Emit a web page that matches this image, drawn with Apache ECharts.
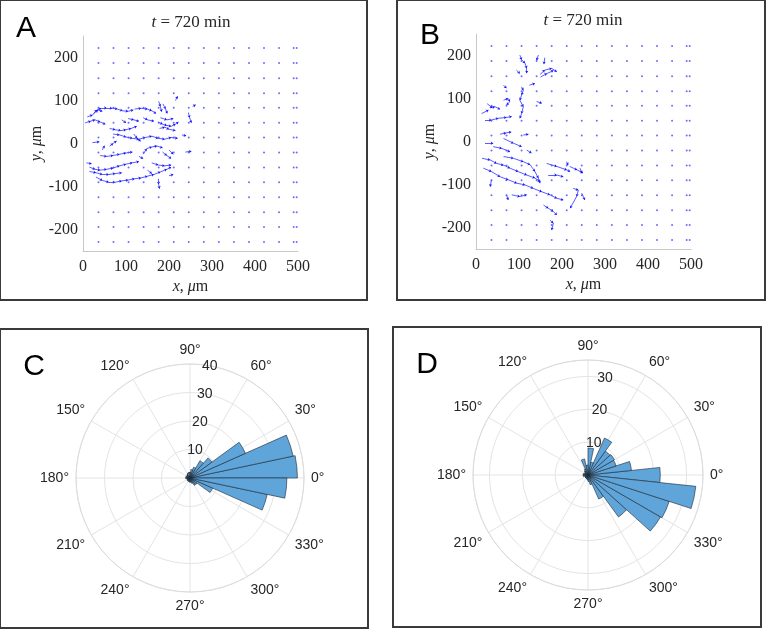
<!DOCTYPE html>
<html>
<head>
<meta charset="utf-8">
<title>Cell tracks and direction histograms</title>
<script src="https://cdn.jsdelivr.net/npm/echarts@6.0.0/dist/echarts.min.js"></script>
<style>
html, body {margin:0; padding:0; background:#fff;}
#chart {width:766px; height:630px;}
</style>
</head>
<body>
<div id="chart"></div>
<script>
// fixed grid points (um)
const gridX = [36, 71, 106, 141, 176, 211, 246, 281, 316, 351, 386, 421, 456, 490, 497];
const gridY = [-229, -194, -160, -125, -90, -56, -21, 14, 48, 83, 117, 152, 187, 222];
const xTicks = [0, 100, 200, 300, 400, 500];
const yTicks = [-200, -100, 0, 100, 200];

// cell tracks, points in um
const tracksA = [
  [[10,62],[22,66],[32,78],[42,82],[55,83],[68,82],[80,80],[92,76],[105,75],[117,78]],
  [[120,80],[135,82],[150,80],[160,76],[170,70]],
  [[5,48],[18,52],[28,55],[40,50],[52,45]],
  [[25,70],[35,78],[45,75]],
  [[62,35],[75,32],[88,30],[100,32],[112,35],[125,40]],
  [[105,58],[118,55],[130,52]],
  [[140,60],[150,55],[165,52]],
  [[176,98],[180,86],[183,74]],
  [[186,92],[192,80],[196,70]],
  [[215,100],[220,110]],
  [[175,50],[185,45],[195,42],[205,40],[215,45],[222,50]],
  [[178,35],[190,38],[200,33],[215,30]],
  [[180,60],[195,55],[210,58]],
  [[70,22],[85,20],[100,15],[115,12],[130,10],[145,14],[160,17],[175,12],[190,10],[205,14],[220,12]],
  [[118,22],[126,12],[134,5]],
  [[22,2],[38,4]],
  [[62,-6],[70,0],[78,6]],
  [[140,-25],[148,-12],[160,-8],[172,-6],[185,-10]],
  [[40,-28],[55,-30],[70,-28],[85,-25],[100,-22],[115,-20]],
  [[8,-45],[20,-47]],
  [[15,-55],[28,-60],[40,-62],[55,-60],[70,-57],[85,-52],[100,-48],[115,-45],[130,-42]],
  [[15,-65],[30,-68],[45,-72],[60,-72],[75,-70],[90,-68]],
  [[30,-78],[45,-86],[60,-90],[75,-90],[90,-87],[105,-85],[120,-82],[135,-80],[150,-76],[165,-72],[180,-66],[195,-60],[205,-55]],
  [[175,-82],[176,-95],[178,-105]],
  [[160,-45],[175,-50],[190,-52],[205,-50]],
  [[185,-20],[195,-28],[205,-35]],
  [[200,-15],[210,-25]],
  [[238,-20],[252,-18]],
  [[255,86],[262,90]],
  [[245,72],[248,60],[252,48]],
  [[230,20],[240,18]],
  [[90,55],[100,48]],
  [[150,-62],[160,-70]],
  [[200,-75],[210,-72]],
  [[130,-30],[140,-35]],
  [[45,-15],[50,-5]]
];
const tracksB = [
  [[102,201],[106,190],[114,182],[118,170],[118,159]],
  [[145,201],[141,189]],
  [[160,195],[158,180]],
  [[94,166],[102,158]],
  [[149,156],[160,166],[176,170],[188,162]],
  [[150,150],[165,158],[180,165]],
  [[124,131],[137,135]],
  [[106,127],[110,119],[106,108],[102,96],[110,81],[106,65],[102,54]],
  [[64,131],[71,124]],
  [[64,96],[75,100],[79,93],[71,85]],
  [[26,88],[38,78]],
  [[13,65],[29,73]],
  [[33,78],[44,81],[56,75]],
  [[21,50],[36,50],[52,54],[71,56],[83,58]],
  [[141,93],[153,89]],
  [[56,17],[70,20],[82,22]],
  [[110,15],[122,17]],
  [[21,-4],[40,-4]],
  [[64,7],[87,-4],[106,-12]],
  [[40,-12],[60,-16],[79,-24]],
  [[118,-20],[129,-27]],
  [[14,-39],[33,-43],[48,-51],[64,-55],[79,-62],[98,-70],[118,-78],[137,-85],[149,-93]],
  [[64,-35],[87,-39],[110,-47],[126,-54],[137,-70],[145,-85],[149,-97]],
  [[17,-62],[36,-70],[56,-82],[75,-89],[95,-97],[114,-101],[133,-109],[153,-117],[172,-124],[188,-132],[203,-136]],
  [[164,-51],[188,-58],[211,-66],[219,-70]],
  [[218,-58],[235,-66],[249,-73]],
  [[211,-47],[214,-55]],
  [[242,-62],[246,-74]],
  [[168,-78],[188,-78],[203,-82]],
  [[36,-89],[33,-105]],
  [[71,-124],[75,-136]],
  [[83,-124],[102,-128],[118,-124]],
  [[226,-109],[238,-113],[234,-128],[219,-155]],
  [[246,-120],[253,-136]],
  [[157,-148],[168,-155],[180,-163],[188,-171]],
  [[172,-183],[180,-190],[176,-206]]
];

// direction histograms (bin centre in degrees, count)
const binWidth = 12;
const binsC = [6,18,30,42,54,66,78,90,102,114,126,138,150,162,174,186,198,210,222,234,246,258,270,282,294,306,318,330,342,354];
const countsC = [37.7,37,21.3,9.5,7,4,3,2,1.5,1,1,1,1,1.5,1.5,1.5,1,1,1,1,1,1,1.5,1.5,2,3,3,8.7,27.7,34];
const binsD = [0,12,24,36,48,60,72,84,96,108,120,132,144,156,168,180,192,204,216,228,240,252,264,276,288,300,312,324,336,348];
const countsD = [22,13.3,9,9.3,9,12.3,4,8.2,3,5,2,1.5,1,1,1.5,1.5,1.5,1,1,1,1,1,1.5,2,3,8,15.8,25.5,26,33];
const rTicksC = [0, 10, 20, 30, 40];
const rTicksD = [0, 10, 20, 30];

const ink = '#262626';
const serif = 'Liberation Serif';
const sans = 'Liberation Sans';

function gridPoints() {
  const pts = [];
  gridX.forEach(x => gridY.forEach(y => pts.push([x, y])));
  return pts;
}
function segments(tracks) {
  const out = [];
  tracks.forEach(t => {
    for (let i = 0; i < t.length - 1; i++) out.push({coords: [t[i], t[i + 1]]});
  });
  return out;
}
function roseItem(params, api) {
  const r = api.value(0), a = api.value(1);
  const c = api.coord([0, a]);
  const p = api.coord([r, a]);
  const R = Math.hypot(p[0] - c[0], p[1] - c[1]);
  const h = binWidth / 2;
  return {
    type: 'sector',
    shape: {cx: c[0], cy: c[1], r0: 0, r: R,
      startAngle: -(a + h) * Math.PI / 180, endAngle: -(a - h) * Math.PI / 180, clockwise: true},
    style: {fill: '#5fa5d9', stroke: '#1c2733', lineWidth: 0.6}
  };
}

function xAx(gi) {
  return {
    gridIndex: gi, type: 'value', min: 0, max: 500,
    axisLine: {onZero: false, lineStyle: {color: '#c8c8c8'}},
    axisTick: {show: false}, splitLine: {show: false},
    axisLabel: {customValues: xTicks, color: ink, fontFamily: serif, fontSize: 16, margin: 8},
    name: '{i|x}, {i|μ}m', nameLocation: 'middle', nameGap: 28,
    nameTextStyle: {color: ink, fontFamily: serif, fontSize: 16,
      rich: {i: {fontStyle: 'italic', fontFamily: serif, fontSize: 16, color: ink}}}
  };
}
function yAx(gi) {
  return {
    gridIndex: gi, type: 'value', min: -250, max: 250,
    axisLine: {show: true, onZero: false, lineStyle: {color: '#c8c8c8'}},
    axisTick: {show: false}, splitLine: {show: false},
    axisLabel: {customValues: yTicks, color: ink, fontFamily: serif, fontSize: 16, margin: 5},
    name: '{i|y}, {i|μ}m', nameLocation: 'middle', nameGap: 34, nameRotate: 90,
    nameTextStyle: {color: ink, fontFamily: serif, fontSize: 16,
      rich: {i: {fontStyle: 'italic', fontFamily: serif, fontSize: 16, color: ink}}}
  };
}
function angleVis(pi) {
  return {
    polarIndex: pi, type: 'value', min: 0, max: 360, interval: 30,
    startAngle: 0, clockwise: false,
    axisLine: {lineStyle: {color: '#dcdcdc'}},
    axisTick: {show: false},
    axisLabel: {color: ink, fontFamily: sans, fontSize: 14, margin: 7,
      formatter: v => v === 360 ? '' : v + '°'},
    splitLine: {lineStyle: {color: '#e4e4e4'}}
  };
}
function angleHidden(pi) {
  return {polarIndex: pi, type: 'value', min: 0, max: 360, startAngle: 80, clockwise: false, show: false};
}
function radiusGrid(pi, max) {
  return {
    polarIndex: pi, type: 'value', min: 0, max: max, interval: 10,
    axisLine: {show: false}, axisTick: {show: false}, axisLabel: {show: false},
    splitLine: {lineStyle: {color: '#e4e4e4'}}
  };
}
function radiusLabels(pi, max, ticks) {
  return {
    polarIndex: pi, type: 'value', min: 0, max: max,
    axisLine: {show: false}, axisTick: {show: false}, splitLine: {show: false},
    axisLabel: {customValues: ticks, color: ink, fontFamily: sans, fontSize: 14, margin: 0,
      align: 'center', verticalAlign: 'middle'}
  };
}
function frame(x, y, w, h) {
  return {type: 'rect', shape: {x: x, y: y, width: w, height: h},
    style: {fill: 'none', stroke: '#3a3a3a', lineWidth: 2}, silent: true};
}
function letter(t, x, y) {
  return {type: 'text', x: x, y: y,
    style: {text: t, fontFamily: sans, fontSize: 30, fill: '#000', align: 'center', verticalAlign: 'middle'}};
}
function titleAt(left, top) {
  return {text: '{i|t} = 720 min', left: left, top: top, textAlign: 'center', padding: 0,
    textStyle: {color: ink, fontFamily: serif, fontSize: 17, fontWeight: 'normal',
      rich: {i: {fontStyle: 'italic', fontFamily: serif, fontSize: 17, color: ink}}}};
}
function trackSeries(idx, tracks) {
  return {type: 'lines', coordinateSystem: 'cartesian2d', xAxisIndex: idx, yAxisIndex: idx,
    data: segments(tracks), symbol: ['none', 'arrow'], symbolSize: 2.5,
    lineStyle: {color: '#1414ff', width: 0.7, opacity: 1}};
}

const chart = echarts.init(document.getElementById('chart'));
chart.setOption({
  animation: false,
  backgroundColor: '#fff',
  title: [titleAt(191, 14), titleAt(583, 12)],
  grid: [
    {left: 83, top: 36, width: 215, height: 215},
    {left: 476, top: 34, width: 215, height: 215}
  ],
  xAxis: [xAx(0), xAx(1)],
  yAxis: [yAx(0), yAx(1)],
  polar: [
    {center: [190, 478], radius: 114},
    {center: [190, 478], radius: 114},
    {center: [588, 475], radius: 115},
    {center: [588, 475], radius: 115}
  ],
  angleAxis: [angleVis(0), angleHidden(1), angleVis(2), angleHidden(3)],
  radiusAxis: [radiusGrid(0, 40), radiusLabels(1, 40, rTicksC), radiusGrid(2, 35), radiusLabels(3, 35, rTicksD)],
  series: [
    {type: 'scatter', xAxisIndex: 0, yAxisIndex: 0, data: gridPoints(), symbolSize: 2,
      itemStyle: {color: '#4848ff'}, silent: true},
    {type: 'scatter', xAxisIndex: 1, yAxisIndex: 1, data: gridPoints(), symbolSize: 2,
      itemStyle: {color: '#4848ff'}, silent: true},
    trackSeries(0, tracksA),
    trackSeries(1, tracksB),
    {type: 'custom', coordinateSystem: 'polar', polarIndex: 0, renderItem: roseItem,
      encode: {radius: 0, angle: 1}, data: countsC.map((v, i) => [v, binsC[i]])},
    {type: 'custom', coordinateSystem: 'polar', polarIndex: 2, renderItem: roseItem,
      encode: {radius: 0, angle: 1}, data: countsD.map((v, i) => [v, binsD[i]])}
  ],
  graphic: [
    frame(0, 0, 367, 300), frame(397, 0, 368, 300),
    frame(0, 329, 368, 299), frame(393, 327, 368, 300),
    letter('A', 26, 29), letter('B', 430, 36), letter('C', 34, 367), letter('D', 427, 365)
  ]
});
</script>
</body>
</html>
